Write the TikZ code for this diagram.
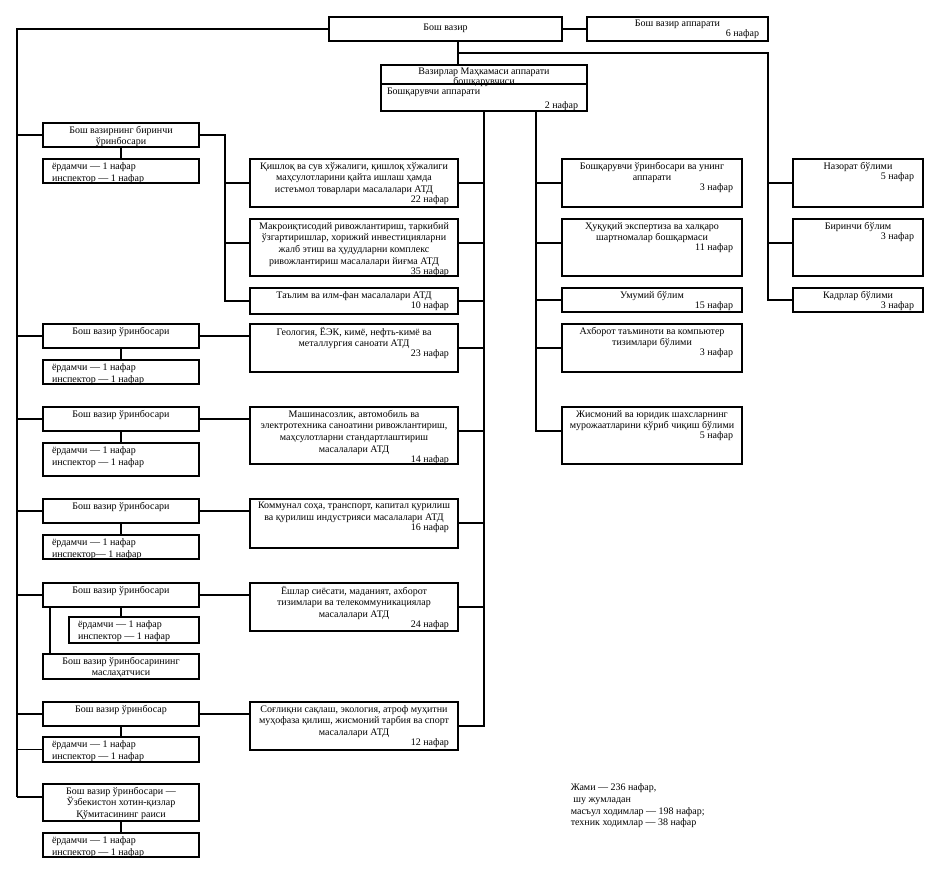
\documentclass[tikz,border=0pt]{standalone}
\usepackage{fontspec}
\setmainfont{Liberation Serif}
\newcommand\fs{\fontsize{7.5}{8.7}\selectfont}
\tikzset{
  bx/.style={draw, rectangle, inner sep=0pt, line width=1.2pt},
  tx/.style={anchor=north, inner sep=0pt, align=center, font=\fs},
  tl/.style={anchor=north west, inner sep=0pt, align=left, font=\fs},
}
\newcommand\nfr[1]{\\[-1.2pt]\makebox[\tw pt][r]{#1}}
% centered box: name, x1, y1, x2, y2, text
\newcommand\ob[6]{%
  \pgfmathsetmacro\bw{(#4-#2)*0.75}%
  \pgfmathsetmacro\bh{(#5-#3)*0.75}%
  \pgfmathsetmacro\tw{(#4-#2-18)*0.75}%
  \node[bx, minimum width=\bw pt, minimum height=\bh pt] (#1) at ({(#2+#4)/2},{(#3+#5)/2}) {};
  \node[tx] (#1t) at ([yshift=-2.4pt]#1.north) {#6};}
% left-aligned box
\newcommand\lb[6]{%
  \pgfmathsetmacro\bw{(#4-#2)*0.75}%
  \pgfmathsetmacro\bh{(#5-#3)*0.75}%
  \node[bx, minimum width=\bw pt, minimum height=\bh pt] (#1) at ({(#2+#4)/2},{(#3+#5)/2}) {};
  \node[tl] (#1t) at ([xshift=6.75pt,yshift=-2.6pt]#1.north west) {#6};}
\begin{document}
\begin{tikzpicture}[x=0.75pt,y=-0.75pt,line width=1.2pt]
\useasboundingbox (0,0) rectangle (941,893);

% top
\pgfmathsetmacro\bw{(562-329)*0.75}\pgfmathsetmacro\bh{(41-17)*0.75}
\node[bx, minimum width=\bw pt, minimum height=\bh pt] (pm) at (445.5,29) {};
\node[inner sep=0pt, font=\fs] (pmt) at ([yshift=0.5pt]pm.center) {Бош вазир};
\ob{pma}{587}{17}{768}{41}{Бош вазир аппарати\nfr{6 нафар}}
\pgfmathsetmacro\bw{(587-381)*0.75}\pgfmathsetmacro\bh{(111-65)*0.75}
\node[bx, minimum width=\bw pt, minimum height=\bh pt] (vmb) at (484,88) {};
\draw (vmb.west |- 0,84) -- (vmb.east |- 0,84);
\node[tx, font={\fontsize{7.5}{7.4}\selectfont}] (vmbt) at ([yshift=-2.2pt]vmb.north) {Вазирлар Маҳкамаси аппарати\\бошқарувчиси};
\node[tl] (vmbl) at ([xshift=4.5pt,yshift=-2.4pt]vmb.west |- 0,84) {Бошқарувчи аппарати};
\node[anchor=base east, inner sep=0pt, font=\fs] (vmbn) at ([xshift=-6.75pt,yshift=2.6pt]vmb.south east) {2 нафар};

% deputies
\ob{d1}{43}{123}{199}{147}{Бош вазирнинг биринчи\\ўринбосари}
\lb{h1}{43}{159}{199}{183}{ёрдамчи — 1 нафар\\инспектор — 1 нафар}
\ob{d2}{43}{324}{199}{348}{Бош вазир ўринбосари}
\lb{h2}{43}{360}{199}{384}{ёрдамчи — 1 нафар\\инспектор — 1 нафар}
\ob{d3}{43}{407}{199}{431}{Бош вазир ўринбосари}
\lb{h3}{43}{443}{199}{476}{ёрдамчи — 1 нафар\\инспектор — 1 нафар}
\ob{d4}{43}{499}{199}{523}{Бош вазир ўринбосари}
\lb{h4}{43}{535}{199}{559}{ёрдамчи — 1 нафар\\инспектор— 1 нафар}
\ob{d5}{43}{583}{199}{607}{Бош вазир ўринбосари}
\lb{h5}{69}{617}{199}{643}{ёрдамчи — 1 нафар\\инспектор — 1 нафар}
\ob{adv}{43}{654}{199}{679}{Бош вазир ўринбосарининг\\маслаҳатчиси}
\ob{d6}{43}{702}{199}{726}{Бош вазир ўринбосар}
\lb{h6}{43}{737}{199}{762}{ёрдамчи — 1 нафар\\инспектор — 1 нафар}
\ob{d7}{43}{784}{199}{821}{Бош вазир ўринбосари —\\Ўзбекистон хотин-қизлар\\Қўмитасининг раиси}
\lb{h7}{43}{833}{199}{857}{ёрдамчи — 1 нафар\\инспектор — 1 нафар}

% ATD column
\ob{a1}{250}{159}{458}{207}{Қишлоқ ва сув хўжалиги, қишлоқ хўжалиги\\маҳсулотларини қайта ишлаш ҳамда\\истеъмол товарлари масалалари АТД\nfr{22 нафар}}
\ob{a2}{250}{219}{458}{276}{Макроиқтисодий ривожлантириш, таркибий\\ўзгартиришлар, хорижий инвестицияларни\\жалб этиш ва ҳудудларни комплекс\\ривожлантириш масалалари йиғма АТД\nfr{35 нафар}}
\ob{a3}{250}{288}{458}{314}{Таълим ва илм-фан масалалари АТД\nfr{10 нафар}}
\ob{a4}{250}{324}{458}{372}{Геология, ЁЭК, кимё, нефть-кимё ва\\металлургия саноати АТД\nfr{23 нафар}}
\ob{a5}{250}{407}{458}{464}{Машинасозлик, автомобиль ва\\электротехника саноатини ривожлантириш,\\маҳсулотларни стандартлаштириш\\масалалари АТД\nfr{14 нафар}}
\ob{a6}{250}{499}{458}{548}{Коммунал соҳа, транспорт, капитал қурилиш\\ва қурилиш индустрияси масалалари АТД\nfr{16 нафар}}
\ob{a7}{250}{583}{458}{631}{Ёшлар сиёсати, маданият, ахборот\\тизимлари ва телекоммуникациялар\\масалалари АТД\nfr{24 нафар}}
\ob{a8}{250}{702}{458}{750}{Соғлиқни сақлаш, экология, атроф муҳитни\\муҳофаза қилиш, жисмоний тарбия ва спорт\\масалалари АТД\nfr{12 нафар}}

% middle column
\ob{m1}{562}{159}{742}{207}{Бошқарувчи ўринбосари ва унинг\\аппарати\nfr{3 нафар}}
\ob{m2}{562}{219}{742}{276}{Ҳуқуқий экспертиза ва халқаро\\шартномалар бошқармаси\nfr{11 нафар}}
\ob{m3}{562}{288}{742}{312}{Умумий бўлим\nfr{15 нафар}}
\ob{m4}{562}{324}{742}{372}{Ахборот таъминоти ва компьютер\\тизимлари бўлими\nfr{3 нафар}}
\ob{m5}{562}{407}{742}{464}{Жисмоний ва юридик шахсларнинг\\мурожаатларини кўриб чиқиш бўлими\nfr{5 нафар}}

% right column
\ob{r1}{793}{159}{923}{207}{Назорат бўлими\nfr{5 нафар}}
\ob{r2}{793}{219}{923}{276}{Биринчи бўлим\nfr{3 нафар}}
\ob{r3}{793}{288}{923}{312}{Кадрлар бўлими\nfr{3 нафар}}

% totals
\node[tl, font={\fontsize{7.5}{8.8}\selectfont}] (tot) at (570,783) {Жами — 236 нафар,\\\ шу жумладан\\масъул ходимлар — 198 нафар;\\техник ходимлар — 38 нафар};

% connectors
\draw (pm.east) -- (pma.west);
\coordinate (lt) at (17,797);
\draw (pm.west) -| (lt);
\foreach \n in {d1,d2,d3,d4,d5,d6,h6} \draw (\n.west) -- (\n.west -| lt);
\draw (lt) -- (lt -| d7.west);

\coordinate (rj) at (458,53);
\coordinate (rtop) at (768,53);
\draw (pm.south -| rj) -- (vmb.north -| rj);
\draw (rj) -- (rtop) -- (rtop |- r3.west) -- (r3.west);
\draw (r1.west) -- (r1.west -| rtop);
\draw (r2.west |- 0,243) -- (rtop |- 0,243);

\coordinate (at) at (484,726);
\draw (vmb.south -| at) -- (at) -- (a8.east);
\foreach \n in {a1,a3,a4,a7} \draw (\n.east) -- (\n.east -| at);
\draw (a2.east |- 0,243) -- (at |- 0,243);
\draw (a5.east |- 0,431) -- (at |- 0,431);
\draw (a6.east |- 0,523) -- (at |- 0,523);

\coordinate (mt) at (536,431);
\draw (vmb.south -| mt) -- (mt) -- (m5.west |- mt);
\foreach \n in {m1,m3,m4} \draw (\n.west) -- (\n.west -| mt);
\draw (m2.west |- 0,243) -- (mt |- 0,243);

\coordinate (ft) at (225,301);
\draw (d1.east) -| (ft) -- (a3.west);
\draw (a1.west) -- (a1.west -| ft);
\draw (a2.west |- 0,243) -- (ft |- 0,243);

\draw (d2.east) -- (d2.east -| a4.west);
\draw (d3.east) -- (d3.east -| a5.west);
\draw (d4.east) -- (d4.east -| a6.west);
\draw (d5.east) -- (d5.east -| a7.west);
\draw (d6.east) -- (d6.east -| a8.west);

\foreach \a/\b in {d1/h1,d2/h2,d3/h3,d4/h4,d6/h6,d7/h7} \draw (\a.south) -- (\b.north);
\draw (d5.south) -- (d5.south |- h5.north);
\draw (d5.south -| 50,0) -- (adv.north -| 50,0);
\end{tikzpicture}
\end{document}
